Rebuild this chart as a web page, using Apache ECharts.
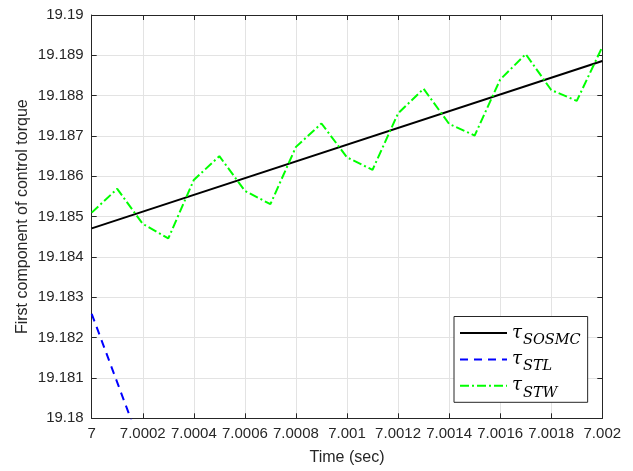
<!DOCTYPE html>
<html>
<head>
<meta charset="utf-8">
<script src="https://cdn.jsdelivr.net/npm/echarts@6/dist/echarts.min.js"></script>
<style>html,body{margin:0;padding:0;background:#fff}#c{width:633px;height:471px}</style>
</head>
<body>
<div id="c"></div>
<script>
// ---- data ----
var xTickLabels = ['7', '7.0002', '7.0004', '7.0006', '7.0008', '7.001', '7.0012', '7.0014', '7.0016', '7.0018', '7.002'];
var yTickLabels = ['19.18', '19.181', '19.182', '19.183', '19.184', '19.185', '19.186', '19.187', '19.188', '19.189', '19.19'];

var sosmcTime = [7, 7.002];
var sosmcValues = [19.18471, 19.18886];

var stlTime = [7, 7.0001, 7.0002];
var stlValues = [19.18259, 19.18089, 19.17919];

var stwTime = [7, 7.0001, 7.0002, 7.0003, 7.0004, 7.0005, 7.0006, 7.0007, 7.0008, 7.0009, 7.001,
               7.0011, 7.0012, 7.0013, 7.0014, 7.0015, 7.0016, 7.0017, 7.0018, 7.0019, 7.002];
var stwValues = [19.18510, 19.18569, 19.18482, 19.18446, 19.18591, 19.18650, 19.18564, 19.18531, 19.18673, 19.18731, 19.18647,
                 19.18616, 19.18756, 19.18817, 19.18730, 19.18701, 19.18840, 19.18903, 19.18814, 19.18787, 19.18921];

var seriesNames = ['SOSMC', 'STL', 'STW'];

function pairs(t, v) { return t.map(function (x, i) { return [x, v[i]]; }); }

var axisColor = '#262626';
var gridColor = '#e3e3e3';
var font = '"Liberation Sans", Arial, Helvetica, sans-serif';
var serif = '"DejaVu Serif", "Liberation Serif", serif';

var chart = echarts.init(document.getElementById('c'));
var xMin = 7, xMax = 7.002, xInt = 0.0002;
var yMin = 19.18, yMax = 19.19, yInt = 0.001;

function xLabel(v) { var i = Math.round((v - xMin) / xInt); return xTickLabels[i] || ''; }
function yLabel(v) { var i = Math.round((v - yMin) / yInt); return yTickLabels[i] || ''; }

var option = {
  animation: false,
  backgroundColor: '#fff',
  grid: { left: 91.7, right: 30.7, top: 15, bottom: 52.7, containLabel: false },
  xAxis: [{
    type: 'value', min: xMin, max: xMax, interval: xInt, position: 'bottom',
    name: 'Time (sec)', nameLocation: 'middle', nameGap: 31, nameMoveOverlap: false,
    nameTextStyle: { fontFamily: font, fontSize: 16, color: axisColor },
    axisLine: { show: true, lineStyle: { color: axisColor, width: 1 } },
    axisTick: { show: true, inside: true, length: 5, lineStyle: { color: axisColor } },
    axisLabel: { formatter: xLabel, fontFamily: font, fontSize: 15, color: axisColor, margin: 8, showMinLabel: true, showMaxLabel: true, hideOverlap: false },
    splitLine: { show: true, lineStyle: { color: gridColor, width: 1 } }
  }, {
    type: 'value', min: xMin, max: xMax, interval: xInt, position: 'top',
    axisLine: { show: true, lineStyle: { color: axisColor, width: 1 } },
    axisTick: { show: true, inside: true, length: 5, lineStyle: { color: axisColor } },
    axisLabel: { show: false }, splitLine: { show: false }
  }],
  yAxis: [{
    type: 'value', min: yMin, max: yMax, interval: yInt, position: 'left',
    name: 'First component of control torque', nameLocation: 'middle', nameGap: 61.5, nameRotate: 90, nameMoveOverlap: false,
    nameTextStyle: { fontFamily: font, fontSize: 16, color: axisColor },
    axisLine: { show: true, lineStyle: { color: axisColor, width: 1 } },
    axisTick: { show: true, inside: true, length: 5, lineStyle: { color: axisColor } },
    axisLabel: { formatter: yLabel, fontFamily: font, fontSize: 15, color: axisColor, margin: 8, showMinLabel: true, showMaxLabel: true },
    splitLine: { show: true, lineStyle: { color: gridColor, width: 1 } }
  }, {
    type: 'value', min: yMin, max: yMax, interval: yInt, position: 'right',
    axisLine: { show: true, lineStyle: { color: axisColor, width: 1 } },
    axisTick: { show: true, inside: true, length: 5, lineStyle: { color: axisColor } },
    axisLabel: { show: false }, splitLine: { show: false }
  }],
  legend: {
    orient: 'vertical', left: 454, top: 316.5,
    padding: [2, 7, 2, 5], itemGap: -2.6, itemWidth: 47, itemHeight: 14,
    backgroundColor: '#fff', borderColor: axisColor, borderWidth: 1, borderRadius: 0,
    itemStyle: { opacity: 0 },
    data: seriesNames,
    formatter: function (n) { return '{t|τ}{s|' + n + '}'; },
    textStyle: {
      rich: {
        t: { fontFamily: serif, fontStyle: 'italic', fontSize: 18, color: '#000', lineHeight: 26 },
        s: { fontFamily: serif, fontStyle: 'italic', fontSize: 14.5, color: '#000', lineHeight: 12, padding: [14, 0, 0, 1] }
      }
    }
  },
  series: [{
    name: seriesNames[0], type: 'line', showSymbol: false, symbol: 'none',
    data: pairs(sosmcTime, sosmcValues), color: '#000',
    lineStyle: { color: '#000', width: 2, type: 'solid' }
  }, {
    name: seriesNames[1], type: 'line', showSymbol: false, symbol: 'none',
    data: pairs(stlTime, stlValues), color: '#0000ff', clip: true,
    lineStyle: { color: '#0000ff', width: 2, type: [8, 6] }
  }, {
    name: seriesNames[2], type: 'line', showSymbol: false, symbol: 'none',
    data: pairs(stwTime, stwValues), color: '#00ff00',
    lineStyle: { color: '#00ff00', width: 2, type: [9, 3, 2, 3] }
  }]
};
chart.setOption(option);
</script>
</body>
</html>
